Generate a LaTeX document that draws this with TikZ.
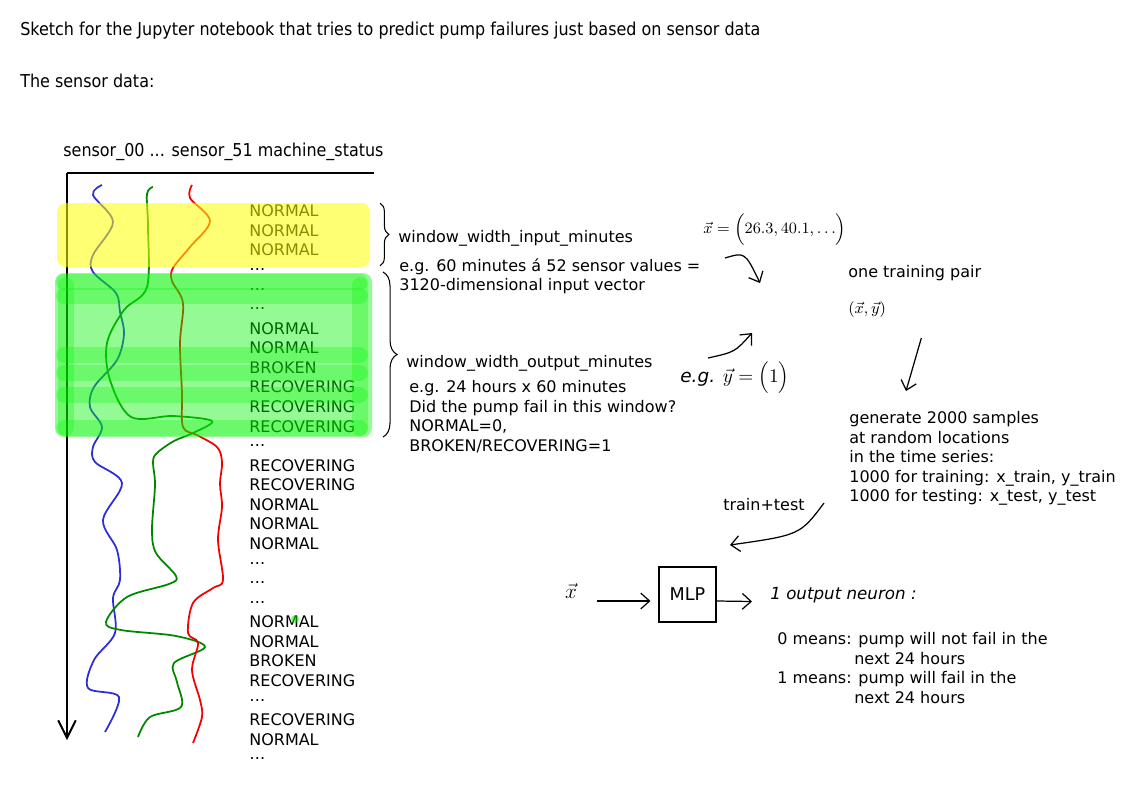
\documentclass[tikz,border=0pt]{standalone}
\usepackage{fontspec}
\setmainfont{DejaVu Sans}
\newfontfamily\condfont{DejaVu Sans Condensed}
\usetikzlibrary{arrows.meta, positioning, calc, decorations.pathreplacing}
\definecolor{sensorblue}{RGB}{45,45,215}
\definecolor{sensorgreen}{RGB}{0,135,0}
\definecolor{sensorred}{RGB}{245,0,0}
\definecolor{markyellow}{RGB}{255,255,0}
\definecolor{markgreen}{RGB}{0,245,0}

\tikzset{
  txt/.style={font=\fontsize{9.1}{11.14}\selectfont, anchor=west, inner sep=0pt, align=left},
  headtxt/.style={font=\condfont\fontsize{10.1}{12}\selectfont, anchor=west, inner sep=0pt},
  hand/.style={font=\itshape\fontsize{9.5}{10}\selectfont, inner sep=0pt},
  sketch/.style={line width=0.7pt, -{Straight Barb[length=5pt,width=9pt]}},
  curve/.style={line width=1pt, smooth, tension=0.55},
  brush/.style={markgreen, opacity=0.28, line width=9pt, line cap=round},
}

\begin{document}
\begin{tikzpicture}[x=0.02cm, y=-0.02cm]
    \useasboundingbox (0,0) rectangle (1123,794);

    % Ueberschrift
    \node[headtxt] (title) at (20,31)
        {Sketch for the Jupyter notebook that tries to predict pump failures just based on sensor data};
    \node[headtxt] (sensordata) at (20,81) {The sensor data:};
    \node[headtxt] (header) at (63,152) {sensor\_00 ... sensor\_51 machine\_status};

    % Achsen
    \draw[line width=1.1pt] (67,173) -- (374,173);
    \draw[line width=1.1pt, -{Straight Barb[length=10pt,width=10pt]}] (67,173) -- (67,740);

    % Status-Spalte
    \foreach \lab [count=\i from 0] in {NORMAL,NORMAL,NORMAL,\ldots,\ldots,\ldots,NORMAL,NORMAL,BROKEN,
        RECOVERING,RECOVERING,RECOVERING,\ldots,RECOVERING,RECOVERING,NORMAL,NORMAL,NORMAL,
        \ldots,\ldots,\ldots,NORMAL,NORMAL,BROKEN,RECOVERING,\ldots,RECOVERING,NORMAL,\ldots}
        \node[txt] (st\i) at (249,{211+19.57*\i}) {\lab};

    % Sensorkurven
    \draw[curve, sensorblue] plot coordinates {(102,185) (93,195) (113,222) (93,255) (93,272) (116,293)
        (120,312) (124,334) (117,360) (94,387) (90,407) (102,427) (93,447) (95,462) (122,483) (103,520)
        (117,550) (120,580) (113,598) (115,633) (94,660) (88,688) (119,697) (105,732)};
    \draw[curve, sensorgreen] plot coordinates {(153,187) (147,194) (148,227) (147,287) (124,310) (107,343)
        (110,380) (131,417) (173,416) (212,421) (193,433) (174,441) (157,453) (153,462) (155,485) (152,530)
        (156,553) (176,576) (169,584) (127,597) (106,622) (121,630) (176,636) (205,647) (174,663)
        (177,682) (181,707) (150,717) (138,737)};
    \draw[curve, sensorred] plot coordinates {(192,185) (190,198) (210,221) (190,247) (173,268) (172,281)
        (183,303) (180,343) (182,393) (183,427) (197,435) (217,447) (222,462) (220,484) (222,507)
        (218,540) (223,580) (213,588) (193,603) (188,633) (198,643) (192,670) (200,700) (202,717) (193,743)};

    % Markierungen
    \fill[markyellow, opacity=0.55, rounded corners=5pt] (57,203) rectangle (370,267);
    \fill[markgreen, opacity=0.42, rounded corners=5pt] (55,273) rectangle (372,437);
    \foreach \yy in {282,296,355,373,395,428}
        \draw[brush] (64,\yy) -- (360,\yy);
    \draw[brush] (66,285) -- (66,428);
    \draw[brush] (360,285) -- (360,428);
    \fill[markgreen, opacity=0.5] (295,619) circle (4);

    % Klammern
    \draw[line width=0.6pt, decorate, decoration={brace, amplitude=5pt}] (380,203) -- (380,266);
    \draw[line width=0.6pt, decorate, decoration={brace, amplitude=8pt}] (383,272) -- (383,437);

    % Fenster-Beschreibungen
    \node[txt] (winin) at (398,238) {window\_width\_input\_minutes};
    \node[txt, anchor=north west] (eg60) at (399,258)
        {e.g. 60 minutes á 52 sensor values =\\3120-dimensional input vector};
    \node[txt] (winout) at (406,363) {window\_width\_output\_minutes};
    \node[txt, anchor=north west] (eg24) at (409,380)
        {e.g. 24 hours x 60 minutes\\Did the pump fail in this window?\\NORMAL=0,\\BROKEN/RECOVERING=1};

    % Trainingspaar
    \node[hand, anchor=west] (xval) at (703,229) {$\vec{x}=\Bigl(26.3,40.1,\ldots\Bigr)$};
    \node[hand, anchor=west, font=\itshape\fontsize{10.5}{11}\selectfont] (yval) at (680,378) {e.g. $\vec{y}=\Bigl(1\Bigr)$};
    \node[txt] (pair) at (848,273) {one training pair};
    \node[txt] (pairvec) at (848,310) {$(\vec{x},\vec{y})$};
    \coordinate (xend) at (760,283);
    \coordinate (yend) at (752,333);
    \draw[sketch] (725,258) .. controls (745,252) .. (xend);
    \draw[sketch] (708,358) .. controls (735,352) .. (yend);

    \node[txt, anchor=north west] (gen) at (849,411)
        {generate 2000 samples\\at random locations\\in the time series:\\1000 for training: x\_train, y\_train\\1000 for testing: x\_test, y\_test};
    \draw[sketch] ($(pairvec.east)+(35,28)$) -- ($(gen.north west)+(57,-20)$);

    % Netz
    \node[txt] (traintest) at (723,505) {train+test};
    \node[draw, line width=0.6pt, minimum width=1.14cm, minimum height=1.1cm,
          font=\fontsize{10}{10}\selectfont] (mlp) at (687.5,594.5) {MLP};
    \coordinate (ttend) at (730,545);
    \draw[sketch] ($(traintest.east)+(19,-2)$) .. controls (800,535) .. (ttend);
    \node[hand, font=\fontsize{13}{13}\selectfont] (xin) at (571,591) {$\vec{x}$};
    \draw[sketch] ($(mlp.west)+(-61,6.5)$) -- ($(mlp.west)+(-8,6.5)$);
    \node[hand, anchor=west] (outneuron) at (770,595) {1 output neuron :};
    \draw[sketch] ($(mlp.east)+(0,6.5)$) -- ($(outneuron.west)+(-18,6.5)$);
    \node[txt, anchor=north west] (means) at (777,632)
        {0 means: pump will not fail in the\\\hspace{43.8pt}next 24 hours\\1 means: pump will fail in the\\\hspace{43.8pt}next 24 hours};
\end{tikzpicture}
\end{document}
